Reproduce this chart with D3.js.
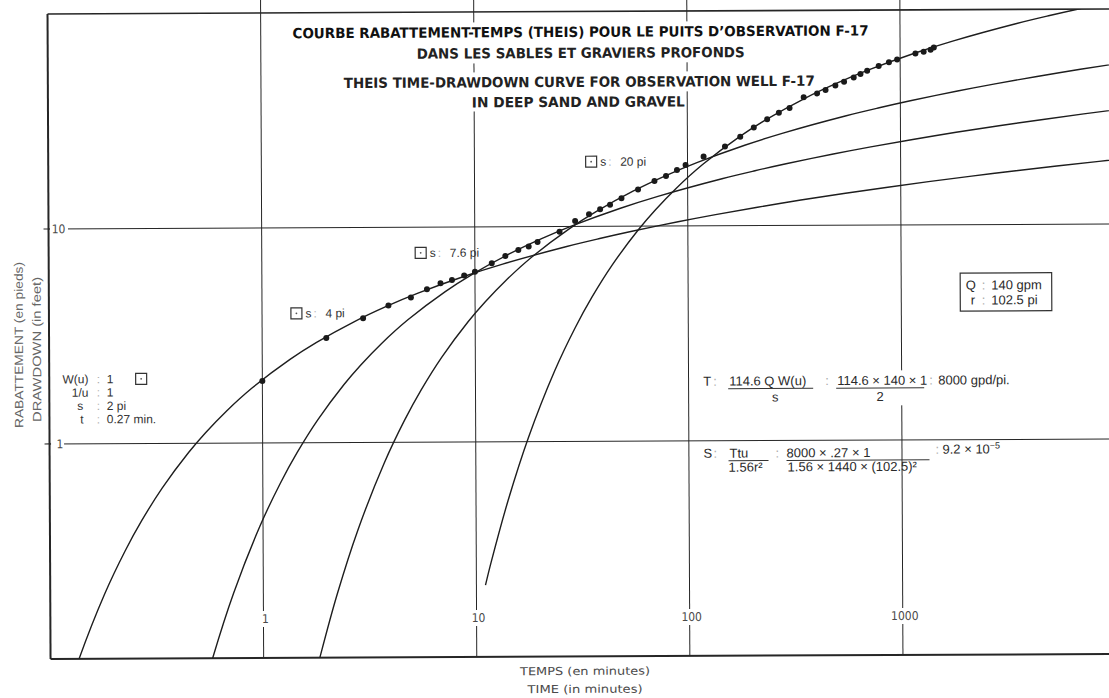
<!DOCTYPE html>
<html>
<head>
<meta charset="utf-8">
<script src="https://cdn.jsdelivr.net/npm/d3@7"></script>
<style>
  html, body { margin: 0; padding: 0; background: #fff; }
  svg { display: block; }
  text { font-family: "Liberation Sans", Arial, sans-serif; }
</style>
</head>
<body>
<svg id="chart" width="1109" height="698"></svg>
<script>
// Observation well F-17: time since pumping started (min) and drawdown (ft)
const obsTime = [1.0, 2.0, 2.98, 3.92, 5.0, 5.95, 6.89, 7.8, 8.9, 10.0, 12.0, 13.9, 16.0, 17.9, 19.7,
  25.0, 29.6, 34.4, 38.8, 43.2, 48.9, 58.5, 69.9, 79.2, 89.2, 97.9, 119, 150, 177, 205, 237, 269,
  302, 352, 407, 446, 496, 545, 605, 651, 700, 793, 886, 968, 1180, 1290, 1390, 1440];
const obsDrawdown = [1.94, 3.07, 3.78, 4.33, 4.71, 5.14, 5.48, 5.68, 5.95, 6.19, 6.77, 7.32, 7.80, 8.09, 8.49,
  9.47, 10.6, 11.4, 12.0, 12.6, 13.5, 14.8, 16.2, 17.1, 18.2, 19.2, 21.0, 23.4, 25.9, 28.6, 31.2, 33.5,
  35.2, 39.5, 41.1, 42.6, 44.7, 46.5, 48.6, 50.5, 52.3, 54.9, 57.1, 58.9, 62.7, 63.9, 65.2, 66.8];

// Theis well function table, W(u)
const wellU = [5, 4, 3.5, 3.2, 3, 2.5, 2, 1.5, 1.2, 1.0, 0.8, 0.6, 0.5, 0.4, 0.3, 0.2, 0.15, 0.1,
  0.07, 0.05, 0.03, 0.02, 0.01, 0.007, 0.005, 0.003, 0.002, 0.001, 0.0005, 0.0002, 0.0001,
  0.00005, 0.00002, 0.00001];
const wellW = [0.001148, 0.003779, 0.006970, 0.01013, 0.01305, 0.02491, 0.04890, 0.1000, 0.1584,
  0.2194, 0.3106, 0.4544, 0.5598, 0.7024, 0.9057, 1.2227, 1.4645, 1.8229, 2.1508, 2.4679, 2.9591,
  3.3547, 4.0379, 4.3916, 4.7261, 5.2349, 5.6394, 6.3315, 7.0242, 7.9402, 8.6332, 9.3263,
  10.2426, 10.9357];

// Type-curve overlays as traced: sheet position of W(u)=1, 1/u=1
const overlayTime = [0.27, 1.45, 5.57, 35.3];
const overlayDrawdown = [2.0, 4.1, 8.0, 21.3];
const overlayMaxU = [5, 5, 5, 3.2];

// Match points as annotated
const matchTime = [0.27, 1.45, 5.57, 35.3];
const matchDrawdown = [2, 4, 7.6, 20];
const matchText = ["2 pi", "4 pi", "7.6 pi", "20 pi"];

const timeTicks = [1, 10, 100, 1000];
const timeTickLabels = ["1", "10", "100", "1000"];
const drawdownTicks = [1, 10];
const drawdownTickLabels = ["1", "10"];

const titleLines = [
  "COURBE RABATTEMENT-TEMPS (THEIS) POUR LE PUITS D\u2019OBSERVATION F-17",
  "DANS LES SABLES ET GRAVIERS PROFONDS",
  "THEIS TIME-DRAWDOWN CURVE FOR OBSERVATION WELL F-17",
  "IN DEEP SAND AND GRAVEL"
];

// ---------------------------------------------------------------
const svg = d3.select("#chart");
const root = svg.append("g").attr("transform", "rotate(-0.27 554 349)");

const x = d3.scaleLog().domain([0.1, 10000]).range([49.1, 1114.6]);
const y = d3.scaleLog().domain([0.1, 100]).range([656.6, 11.6]);

const ink = "#262626";
const soft = "#4a4a4a";

// clip for the curves
svg.append("defs").append("clipPath").attr("id", "plotClip")
  .append("rect")
  .attr("x", x(0.1)).attr("y", y(100))
  .attr("width", 1200 - x(0.1)).attr("height", y(0.1) - y(100));

// grid: decade lines
const grid = root.append("g");
grid.selectAll("line.v").data(timeTicks).join("line")
  .attr("x1", d => x(d)).attr("x2", d => x(d))
  .attr("y1", y(100) - 20).attr("y2", y(0.1))
  .attr("stroke", ink).attr("stroke-width", 1);
grid.selectAll("line.h").data(drawdownTicks).join("line")
  .attr("x1", x(0.1)).attr("x2", 1200)
  .attr("y1", d => y(d)).attr("y2", d => y(d))
  .attr("stroke", ink).attr("stroke-width", 1);

// frame: top (100 ft), left and bottom axes
root.append("line").attr("x1", x(0.1)).attr("x2", 1200)
  .attr("y1", y(100)).attr("y2", y(100)).attr("stroke", ink).attr("stroke-width", 1.6);
root.append("line").attr("x1", x(0.1)).attr("x2", x(0.1))
  .attr("y1", y(100)).attr("y2", y(0.1)).attr("stroke", ink).attr("stroke-width", 2);
root.append("line").attr("x1", x(0.1)).attr("x2", 1200)
  .attr("y1", y(0.1)).attr("y2", y(0.1)).attr("stroke", ink).attr("stroke-width", 2);

// title block, set on white so the grid breaks behind it
const titleSpec = [
  { x0: 294, x1: 870, base: 37, top: 22, bottom: 44, weight: 700, fill: "#111" },
  { x0: 418, x1: 746, base: 58, top: 42, bottom: 63, weight: 700, fill: "#222" },
  { x0: 345, x1: 816, base: 87, top: 72, bottom: 92, weight: 700, fill: "#222" },
  { x0: 473, x1: 686, base: 107, top: 90, bottom: 111, weight: 700, fill: "#222" }
];
const title = root.append("g");
titleLines.forEach((t, i) => {
  const s = titleSpec[i];
  title.append("rect").attr("x", s.x0 - 3).attr("y", s.top)
    .attr("width", s.x1 - s.x0 + 4).attr("height", s.bottom - s.top).attr("fill", "#fff");
});
titleLines.forEach((t, i) => {
  const s = titleSpec[i];
  title.append("text").attr("x", s.x0).attr("y", s.base)
    .attr("textLength", s.x1 - s.x0).attr("lengthAdjust", "spacingAndGlyphs")
    .style("font-family", "'Liberation Sans Narrow','DejaVu Sans Condensed','Liberation Sans',sans-serif")
    .style("font-weight", s.weight).style("font-size", "14px").attr("fill", s.fill)
    .text(t);
});

// bottom tick labels sit on the decade lines
const tl = root.append("g");
timeTicks.forEach((d, i) => {
  const cx = x(d);
  const w = 7 * timeTickLabels[i].length + 4;
  tl.append("rect").attr("x", cx - w / 2).attr("y", y(0.1) - 47).attr("width", w).attr("height", 16).attr("fill", "#fff");
  tl.append("text").attr("x", cx + 2).attr("y", y(0.1) - 35).attr("text-anchor", "middle")
    .style("font-family", "'Liberation Sans Narrow','DejaVu Sans Condensed',sans-serif")
    .style("font-size", "12px").attr("fill", soft).text(timeTickLabels[i]);
});

// left tick labels
drawdownTicks.forEach((d, i) => {
  const cy = y(d);
  tl.append("rect").attr("x", x(0.1) + 1.5).attr("y", cy - 7)
    .attr("width", drawdownTickLabels[i].length === 1 ? 13 : 18).attr("height", 14).attr("fill", "#fff");
  tl.append("line").attr("x1", x(0.1) - 5).attr("x2", x(0.1) + 1).attr("y1", cy).attr("y2", cy)
    .attr("stroke", ink).attr("stroke-width", 1.2);
  tl.append("text").attr("x", x(0.1) + (d >= 10 ? 10 : 10.5)).attr("y", cy).attr("dy", "0.35em")
    .attr("text-anchor", "middle")
    .style("font-family", "'Liberation Sans Narrow','DejaVu Sans Condensed',sans-serif")
    .style("font-size", "12px").attr("fill", soft).text(drawdownTickLabels[i]);
});

// axis titles
const axisFont = "'Liberation Sans Narrow','DejaVu Sans Condensed',sans-serif";
root.append("text").attr("x", 583.5).attr("y", 675).attr("text-anchor", "middle")
  .attr("textLength", 130).attr("lengthAdjust", "spacingAndGlyphs")
  .style("font-family", axisFont).style("font-size", "11px").attr("fill", soft)
  .text("TEMPS (en minutes)");
root.append("text").attr("x", 583.5).attr("y", 693).attr("text-anchor", "middle")
  .attr("textLength", 115).attr("lengthAdjust", "spacingAndGlyphs")
  .style("font-family", axisFont).style("font-size", "11px").attr("fill", soft)
  .text("TIME (in minutes)");
root.append("text").attr("transform", "translate(23,342.5) rotate(-90)").attr("text-anchor", "middle")
  .attr("textLength", 166).attr("lengthAdjust", "spacingAndGlyphs")
  .style("font-size", "12px").attr("fill", "#666").text("RABATTEMENT (en pieds)");
root.append("text").attr("transform", "translate(41,347) rotate(-90)").attr("text-anchor", "middle")
  .attr("textLength", 145).attr("lengthAdjust", "spacingAndGlyphs")
  .style("font-size", "12px").attr("fill", "#666").text("DRAWDOWN (in feet)");

// Theis type curves
const line = d3.line().x(d => x(d[0])).y(d => y(d[1])).curve(d3.curveCatmullRom.alpha(0.5));
const curves = root.append("g").attr("clip-path", "url(#plotClip)");
overlayTime.forEach((t0, i) => {
  const pts = [];
  wellU.forEach((u, k) => {
    if (u <= overlayMaxU[i]) pts.push([t0 / u, overlayDrawdown[i] * wellW[k]]);
  });
  curves.append("path").attr("d", line(pts))
    .attr("fill", "none").attr("stroke", "#1e1e1e").attr("stroke-width", 1.4);
});

// observed drawdown
root.append("g").selectAll("circle").data(obsTime).join("circle")
  .attr("cx", d => x(d)).attr("cy", (d, i) => y(obsDrawdown[i])).attr("r", 3)
  .attr("fill", "#1a1a1a");

// match-point markers
const mk = root.append("g");
const labelFont = "12px";
matchTime.forEach((t, i) => {
  const cx = x(t), cy = y(matchDrawdown[i]);
  mk.append("rect").attr("x", cx - 5.5).attr("y", cy - 5.5).attr("width", 11).attr("height", 11)
    .attr("fill", "#fff").attr("stroke", "#333").attr("stroke-width", 1.2);
  mk.append("circle").attr("cx", cx).attr("cy", cy).attr("r", 0.9).attr("fill", "#555");
  if (i > 0) {
    mk.append("text").attr("x", cx + 9).attr("y", cy).attr("dy", "0.35em")
      .style("font-size", labelFont).attr("fill", "#333").text("s");
    mk.append("text").attr("x", cx + 17).attr("y", cy).attr("dy", "0.35em")
      .style("font-size", labelFont).attr("fill", "#aaa").text(":");
    mk.append("text").attr("x", cx + 29).attr("y", cy).attr("dy", "0.35em")
      .style("font-size", labelFont).attr("fill", "#333").text(matchText[i]);
  }
});

// match-point readout beside the first marker
const mp = root.append("g").style("font-size", "12px").attr("fill", "#333");
const m0x = x(matchTime[0]), m0y = y(matchDrawdown[0]);
const rows = [
  { k: "W(u)", v: "1", kx: 88.3, anchor: "end" },
  { k: "1/u", v: "1", kx: 88.3, anchor: "end" },
  { k: "s", v: matchText[0], kx: 80, anchor: "middle" },
  { k: "t", v: matchTime[0] + " min.", kx: 81.7, anchor: "middle" }
];
rows.forEach((r, j) => {
  const yy = m0y + j * 13.4;
  mp.append("text").attr("x", r.kx).attr("y", yy).attr("dy", "0.35em").attr("text-anchor", r.anchor).text(r.k);
  mp.append("text").attr("x", 96.5).attr("y", yy).attr("dy", "0.35em").attr("fill", "#aaa").text(":");
  mp.append("text").attr("x", 106.5).attr("y", yy).attr("dy", "0.35em").text(r.v);
});

// pumping data box
const box = root.append("g").style("font-size", "13px").attr("fill", "#2a2a2a");
box.append("rect").attr("x", 960.5).attr("y", 275).attr("width", 91.5).attr("height", 38)
  .attr("fill", "#fff").attr("stroke", "#333").attr("stroke-width", 1.2);
box.append("text").attr("x", 966).attr("y", 291.5).text("Q");
box.append("text").attr("x", 982).attr("y", 291.5).attr("fill", "#aaa").text(":");
box.append("text").attr("x", 991.5).attr("y", 291.5).text("140 gpm");
box.append("text").attr("x", 971).attr("y", 306.5).text("r");
box.append("text").attr("x", 982).attr("y", 306.5).attr("fill", "#aaa").text(":");
box.append("text").attr("x", 991.5).attr("y", 306.5).text("102.5 pi");

// transmissivity and storativity computations
const fm = root.append("g").style("font-size", "13px").attr("fill", "#2a2a2a");
fm.append("rect").attr("x", 700).attr("y", 372).attr("width", 330).attr("height", 35).attr("fill", "#fff");
const tb = 386.4, tbar = 389.5, tden = 402.5;
fm.append("text").attr("x", 703).attr("y", tb).text("T");
fm.append("text").attr("x", 713).attr("y", tb).attr("fill", "#aaa").text(":");
fm.append("text").attr("x", 729).attr("y", tb).text("114.6  Q W(u)");
fm.append("line").attr("x1", 728).attr("x2", 813).attr("y1", tbar).attr("y2", tbar).attr("stroke", "#333");
fm.append("text").attr("x", 775).attr("y", tden).attr("text-anchor", "middle").text("s");
fm.append("text").attr("x", 825).attr("y", tb).attr("fill", "#aaa").text(":");
fm.append("text").attr("x", 837).attr("y", tb).text("114.6 \u00d7 140 \u00d7 1");
fm.append("line").attr("x1", 836).attr("x2", 924).attr("y1", tbar).attr("y2", tbar).attr("stroke", "#333");
fm.append("text").attr("x", 880).attr("y", tden).attr("text-anchor", "middle").text("2");
fm.append("text").attr("x", 929).attr("y", tb).attr("fill", "#aaa").text(":");
fm.append("text").attr("x", 938).attr("y", tb).text("8000 gpd/pi.");

const sb = 458.5, sbar = 461.5, sden = 472.5;
fm.append("text").attr("x", 703).attr("y", sb).text("S");
fm.append("text").attr("x", 713).attr("y", sb).attr("fill", "#aaa").text(":");
fm.append("text").attr("x", 729).attr("y", sb).text("Ttu");
fm.append("line").attr("x1", 728).attr("x2", 768).attr("y1", sbar).attr("y2", sbar).attr("stroke", "#333");
fm.append("text").attr("x", 728).attr("y", sden).text("1.56r\u00b2");
fm.append("text").attr("x", 775).attr("y", sb).attr("fill", "#aaa").text(":");
fm.append("text").attr("x", 786).attr("y", sb).text("8000 \u00d7 .27 \u00d7 1");
fm.append("line").attr("x1", 786).attr("x2", 929).attr("y1", sbar).attr("y2", sbar).attr("stroke", "#333");
fm.append("text").attr("x", 787).attr("y", sden).text("1.56 \u00d7 1440 \u00d7 (102.5)\u00b2");
fm.append("text").attr("x", 935).attr("y", sb - 3).attr("fill", "#aaa").text(":");
const sv = fm.append("text").attr("x", 942).attr("y", sb - 3);
sv.append("tspan").text("9.2 \u00d7 10");
sv.append("tspan").attr("dy", -5).style("font-size", "9px").text("\u22125");
</script>
</body>
</html>
